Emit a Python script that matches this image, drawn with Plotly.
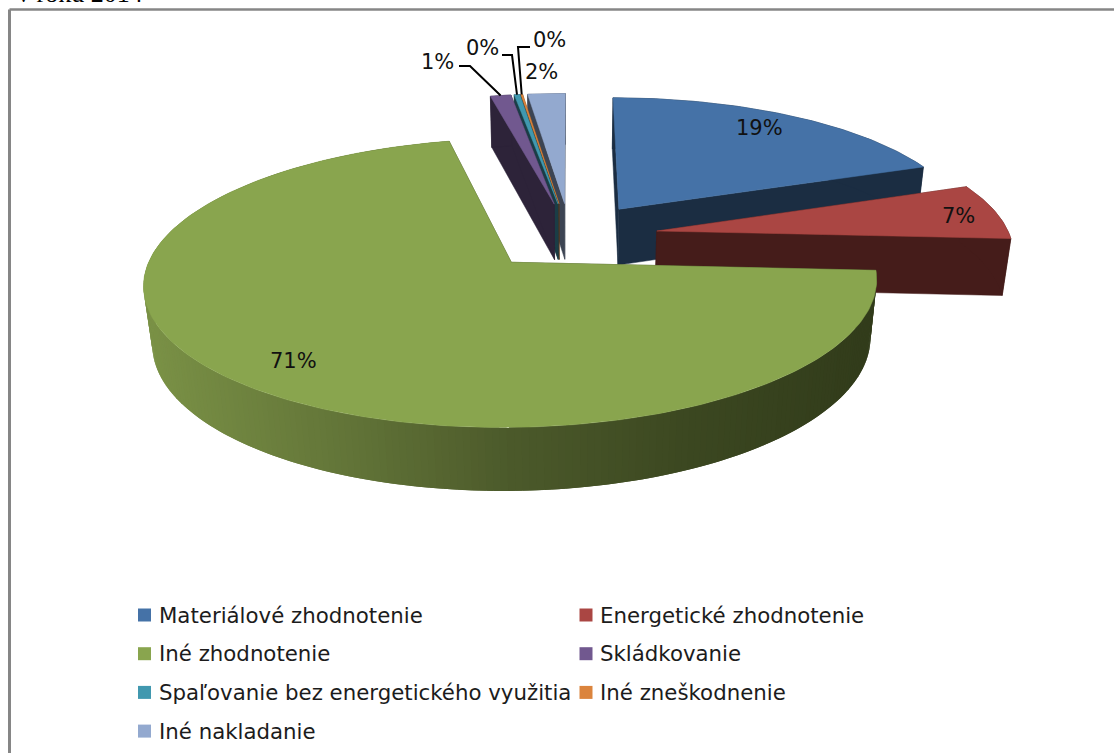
import math
import plotly.graph_objects as go

categories = ["Materiálové zhodnotenie", "Energetické zhodnotenie", "Iné zhodnotenie", "Skládkovanie",
              "Spaľovanie bez energetického využitia", "Iné zneškodnenie", "Iné nakladanie"]
values = [19.3, 6.6, 70.6, 1.1, 0.3, 0.1, 2.0]
top_colors = ["#4572A7", "#AA4643", "#89A54E", "#71588F", "#4198AF", "#DB843D", "#93A9CF"]
side_colors = ["#1B2D42", "#451C1A", "#37421F", "#2D2339", "#1A3D46", "#573418", "#3C4453"]
draw_order = [6, 5, 4, 3, 0, 1, 2]
label_pos = [(759, 128), (958, 216), (293, 361), (437, 62), (482, 48), (549, 40), (541, 72)]
leader_start = {3: (459, 66, 470), 4: (502, 55, 512), 5: (530, 47, 518)}

# projection parameters (pixels of the page)
CX, CY, RX, RY, K, H, M, E = 570, 236, 353, 134, 0.14, 58, 0.02, 0.25
W, Ht = 1114, 753


def project(x, y, z=0.0):
    s = 1.0 / (1.0 + K * y + M * z)
    return CX + RX * x * s, CY - RY * y * s + H * z * s


def wedge_points(start, end, n):
    mid = math.radians((start + end) / 2)
    ax, ay = E * math.sin(mid), E * math.cos(mid)
    rim = []
    for i in range(n + 1):
        t = math.radians(start + (end - start) * i / n)
        rim.append((ax + math.sin(t), ay + math.cos(t)))
    return (ax, ay), rim


def poly(fig, pts, color, name=None, lw=0.5):
    fig.add_trace(go.Scatter(x=[p[0] for p in pts] + [pts[0][0]], y=[p[1] for p in pts] + [pts[0][1]],
                             mode="lines", fill="toself", fillcolor=color,
                             line=dict(color=color, width=lw), hoverinfo="skip", showlegend=False, name=name))


def lerp_color(x):
    stops = [(150, (122, 145, 70)), (350, (98, 116, 56)), (510, (76, 90, 43)), (690, (60, 72, 33)), (870, (50, 60, 27))]
    if x <= stops[0][0]:
        c = stops[0][1]
    elif x >= stops[-1][0]:
        c = stops[-1][1]
    else:
        for (a, ca), (b, cb) in zip(stops, stops[1:]):
            if a <= x <= b:
                f = (x - a) / (b - a)
                c = tuple(ca[j] + (cb[j] - ca[j]) * f for j in range(3))
    return "rgb(%d,%d,%d)" % tuple(int(v) for v in c)


fig = go.Figure()
total = sum(values)
edges = [0.0]
for v in values:
    edges.append(edges[-1] + v / total * 360)

for i in draw_order:
    start, end = edges[i], edges[i + 1]
    n = max(2, int(end - start))
    (ax, ay), rim = wedge_points(start, end, n)
    for rp in (rim[0], rim[-1]):
        poly(fig, [project(ax, ay), project(*rp), project(rp[0], rp[1], 1), project(ax, ay, 1)], side_colors[i])
    if i == 2:
        # gradient rim: each strip overlaps its neighbour so no seams show
        strips = list(zip(rim, rim[1:], rim[2:] + [rim[-1]]))
        for a, b, c in strips:
            pts = [project(*a), project(*c), project(c[0], c[1], 1), project(a[0], a[1], 1)]
            poly(fig, pts, lerp_color((project(*a)[0] + project(*b)[0]) / 2), lw=0)
    else:
        poly(fig, [project(*p) for p in rim] + [project(p[0], p[1], 1) for p in reversed(rim)], side_colors[i])
    poly(fig, [project(ax, ay)] + [project(*p) for p in rim], top_colors[i], categories[i])

# leader lines to the small slices
for i, (x0, y0, x1) in leader_start.items():
    start, end = edges[i], edges[i + 1]
    (ax, ay), rim = wedge_points(start, end, 2)
    ex, ey = project(*rim[1])
    fig.add_trace(go.Scatter(x=[x0, x1, ex], y=[y0, y0, ey], mode="lines", line=dict(color="black", width=2),
                             hoverinfo="skip", showlegend=False))

# legend, laid out on a two-column grid
LEG_X = [144.5, 586]
LEG_Y0, LEG_DY = 615, 38.7
lx, ly, lc, lt = [], [], [], []
for i, c in enumerate(categories):
    lx.append(LEG_X[i % 2])
    ly.append(LEG_Y0 + (i // 2) * LEG_DY)
    lc.append(top_colors[i])
    lt.append(c)
fig.add_trace(go.Scatter(x=lx, y=ly, mode="markers", marker=dict(symbol="square", size=13, color=lc),
                         hoverinfo="skip", showlegend=False))
annotations = []
for x, y, c in zip(lx, ly, lt):
    annotations.append(dict(x=x + 12, y=y, text=c, showarrow=False, xanchor="left", yanchor="middle",
                            font=dict(family="DejaVu Sans", size=21.3, color="#1c1c1c"), xref="x", yref="y"))
for v, (x, y) in zip(values, label_pos):
    annotations.append(dict(x=x, y=y, text="%d%%" % round(v), showarrow=False, xanchor="center", yanchor="middle",
                            font=dict(family="DejaVu Sans", size=21, color="#111111"), xref="x", yref="y"))
annotations.append(dict(x=15, y=10.5, text="v roku 2014", showarrow=False, xanchor="left", yanchor="bottom",
                        font=dict(family="Liberation Serif", size=26, color="black"), xref="x", yref="y"))

fig.update_layout(
    width=W, height=Ht, margin=dict(l=0, r=0, t=0, b=0), paper_bgcolor="white", plot_bgcolor="white",
    xaxis=dict(range=[0, W], visible=False, fixedrange=True),
    yaxis=dict(range=[Ht, 0], visible=False, fixedrange=True),
    showlegend=False, annotations=annotations,
    shapes=[dict(type="line", x0=9.5, x1=9.5, y0=9.5, y1=Ht, line=dict(color="#868686", width=3), layer="below"),
            dict(type="line", x0=9.5, x1=W, y0=9.5, y1=9.5, line=dict(color="#868686", width=2.5), layer="below")],
)
fig.write_html("out.html", config=dict(displayModeBar=False),
               post_script="document.body.style.margin='0';document.documentElement.style.overflow='hidden';")
